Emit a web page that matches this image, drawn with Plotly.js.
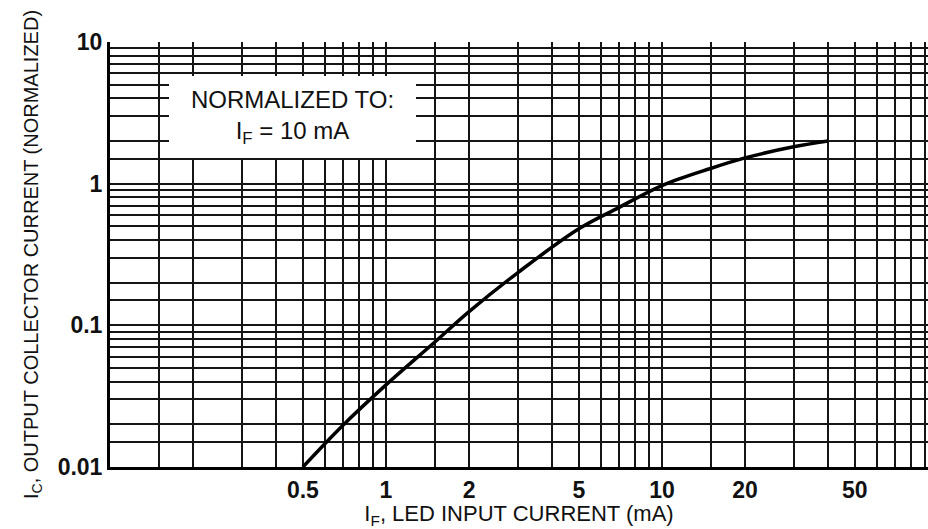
<!DOCTYPE html>
<html>
<head>
<meta charset="utf-8">
<script src="https://cdn.plot.ly/plotly-3.0.1.min.js"></script>
<style>html,body{margin:0;padding:0;background:#fff;}#chart{width:928px;height:529px;}</style>
</head>
<body>
<div id="chart"></div>
<script>
// Curve data: IF (mA) vs normalized IC
const ifCurrent = [0.5, 0.7, 1, 1.5, 2, 3, 5, 7, 10, 15, 20, 30, 40];
const icNormalized = [0.01, 0.0198, 0.038, 0.076, 0.125, 0.235, 0.48, 0.68, 0.97, 1.28, 1.52, 1.82, 2.0];

// Grid positions and tick labels
const xGridVals = [0.1,0.15,0.2,0.3,0.4,0.5,0.6,0.7,0.8,0.9,1,1.5,2,3,4,5,6,7,8,9,10,15,20,30,40,50,60,70,80,90];
const xLabelVals = [0.5, 1, 2, 5, 10, 20, 50];
const xLabelText = ['0.5', '1', '2', '5', '10', '20', '50'];
const yGridVals = [0.01,0.015,0.02,0.03,0.04,0.05,0.06,0.07,0.08,0.09,0.1,0.15,0.2,0.3,0.4,0.5,0.6,0.7,0.8,0.9,1,1.5,2,3,4,5,6,7,8,9,10];
const yLabelVals = [0.01, 0.1, 1, 10];
const yLabelText = ['0.01', '0.1', '1', '10'];

function labelsFor(vals, lv, lt) {
  return vals.map(v => { const i = lv.findIndex(a => Math.abs(a - v) < 1e-9); return i >= 0 ? lt[i] : ''; });
}

const font = 'Liberation Sans, Arial, sans-serif';
const trace = {
  x: ifCurrent, y: icNormalized, type: 'scatter', mode: 'lines',
  line: {color: '#000', width: 3.5, shape: 'spline', smoothing: 1},
  hoverinfo: 'skip'
};

const layout = {
  width: 928, height: 529,
  margin: {l: 110, r: 0, t: 42, b: 62},
  paper_bgcolor: '#fff', plot_bgcolor: '#fff',
  showlegend: false,
  font: {family: font, color: '#111'},
  xaxis: {
    type: 'log', range: [-1, 1.964],
    tickmode: 'array', tickvals: xGridVals, ticktext: labelsFor(xGridVals, xLabelVals, xLabelText),
    ticks: '', showgrid: true, gridcolor: '#151515', gridwidth: 2,
    showline: true, linecolor: '#000', linewidth: 3, zeroline: false,
    tickfont: {family: font, size: 23, color: '#111', weight: 'bold'},
    title: {text: 'I<sub>F</sub>, LED INPUT CURRENT (mA)', font: {family: font, size: 22, color: '#111'}, standoff: 8}
  },
  yaxis: {
    type: 'log', range: [-2, 1],
    tickmode: 'array', tickvals: yGridVals, ticktext: labelsFor(yGridVals, yLabelVals, yLabelText),
    ticks: '', showgrid: true, gridcolor: '#151515', gridwidth: 2,
    showline: true, linecolor: '#000', linewidth: 3, zeroline: false,
    tickfont: {family: font, size: 23, color: '#111', weight: 'bold'},
    title: {text: 'I<sub>C</sub>, OUTPUT COLLECTOR CURRENT (NORMALIZED)', font: {family: font, size: 20, color: '#111'}, standoff: 14}
  },
  annotations: [{
    x: Math.log10(0.46), y: Math.log10(2.96), xref: 'x', yref: 'y',
    text: 'NORMALIZED TO:<br>I<sub>F</sub> = 10 mA',
    showarrow: false, align: 'center',
    font: {family: font, size: 24, color: '#111'},
    bgcolor: '#fff', borderpad: 10, bordercolor: 'rgba(0,0,0,0)', borderwidth: 0,
    width: 227, height: 62
  }]
};

Plotly.newPlot('chart', [trace], layout, {displayModeBar: false, staticPlot: true});
</script>
</body>
</html>
